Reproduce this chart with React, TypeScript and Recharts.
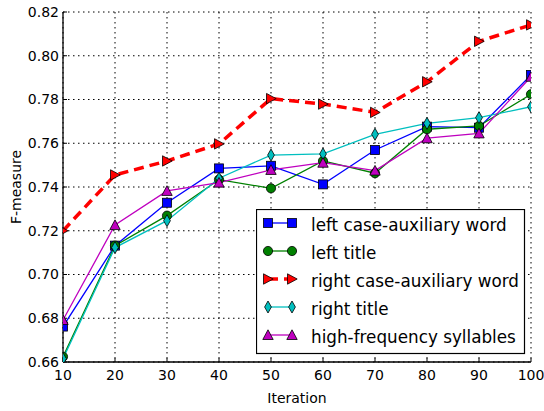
import React from 'react';
import { LineChart, Line, XAxis, YAxis, CartesianGrid, Legend } from 'recharts';

const iterations = [10, 20, 30, 40, 50, 60, 70, 80, 90, 100];
const leftCaseAux = [0.6762, 0.7132, 0.7328, 0.7485, 0.7497, 0.7412, 0.7569, 0.7676, 0.7671, 0.7912];
const leftTitle = [0.6624, 0.7132, 0.7269, 0.7434, 0.7394, 0.7519, 0.7463, 0.7664, 0.7679, 0.7824];
const rightCaseAux = [0.72, 0.7455, 0.7519, 0.7597, 0.7804, 0.7779, 0.7741, 0.7881, 0.8066, 0.8141];
const rightTitle = [0.6615, 0.7123, 0.7246, 0.744, 0.7546, 0.7551, 0.7641, 0.7691, 0.7717, 0.7767];
const highFreq = [0.6792, 0.7226, 0.7382, 0.742, 0.7478, 0.7511, 0.7475, 0.7623, 0.7645, 0.7904];

const xTicks = [10, 20, 30, 40, 50, 60, 70, 80, 90, 100];
const yTicks = [0.66, 0.68, 0.7, 0.72, 0.74, 0.76, 0.78, 0.8, 0.82];

const FONT = '"DejaVu Sans", sans-serif';

type MarkerKind = 'square' | 'circle' | 'triRight' | 'diamond' | 'triUp';

const SERIES: { key: string; name: string; values: number[]; color: string; marker: MarkerKind; dashed?: boolean }[] = [
  { key: 'lca', name: 'left case-auxiliary word', values: leftCaseAux, color: '#0000ff', marker: 'square' },
  { key: 'lt', name: 'left title', values: leftTitle, color: '#008000', marker: 'circle' },
  { key: 'rca', name: 'right case-auxiliary word', values: rightCaseAux, color: '#ff0000', marker: 'triRight', dashed: true },
  { key: 'rt', name: 'right title', values: rightTitle, color: '#00bfbf', marker: 'diamond' },
  { key: 'hf', name: 'high-frequency syllables', values: highFreq, color: '#bf00bf', marker: 'triUp' },
];

const data = iterations.map((it, i) => {
  const row: Record<string, number> = { iteration: it };
  SERIES.forEach((s) => {
    row[s.key] = s.values[i];
  });
  return row;
});

const Marker = ({ kind, cx, cy, color }: { kind: MarkerKind; cx: number; cy: number; color: string }) => {
  const common = { fill: color, stroke: '#000', strokeWidth: 0.8 };
  switch (kind) {
    case 'square':
      return <rect x={cx - 4.5} y={cy - 4.5} width={9} height={9} {...common} />;
    case 'circle':
      return <circle cx={cx} cy={cy} r={4.6} {...common} />;
    case 'triRight':
      return <polygon points={`${cx - 4.5},${cy - 5.2} ${cx + 5.2},${cy} ${cx - 4.5},${cy + 5.2}`} {...common} />;
    case 'diamond':
      return <polygon points={`${cx},${cy - 6} ${cx + 3.4},${cy} ${cx},${cy + 6} ${cx - 3.4},${cy}`} {...common} />;
    case 'triUp':
      return <polygon points={`${cx},${cy - 5.2} ${cx + 5.2},${cy + 4.5} ${cx - 5.2},${cy + 4.5}`} {...common} />;
  }
  return null;
};

const LegendBox = () => (
  <svg width={270} height={147} style={{ display: 'block' }}>
    <rect x={0.5} y={0.5} width={268} height={144} fill="#fff" stroke="#000" strokeWidth={1.2} />
    {SERIES.map((s, i) => {
      const cy = 14 + i * 28;
      return (
        <g key={s.key}>
          <line
            x1={12}
            x2={36}
            y1={cy}
            y2={cy}
            stroke={s.color}
            strokeWidth={s.dashed ? 3.5 : 1.3}
            strokeDasharray={s.dashed ? '10 6' : undefined}
          />
          <Marker kind={s.marker} cx={12} cy={cy} color={s.color} />
          <Marker kind={s.marker} cx={36} cy={cy} color={s.color} />
          <text x={55} y={cy + 7.7} fontFamily={FONT} fontSize={16.8} fill="#000">
            {s.name}
          </text>
        </g>
      );
    })}
  </svg>
);

const tickStyle = { fill: '#000', fontFamily: FONT, fontSize: 14 };

export default function App() {
  return (
    <div style={{ position: 'absolute', left: 0, top: 0, width: 544, height: 411, background: '#fff' }}>
      <LineChart width={544} height={411} data={data} margin={{ top: 12, right: 13, bottom: 0, left: 0 }}>
        <CartesianGrid stroke="#000" strokeDasharray="1.5 3.5" strokeWidth={1} />
        <XAxis
          dataKey="iteration"
          type="number"
          domain={[10, 100]}
          ticks={xTicks}
          allowDataOverflow
          height={49}
          tickSize={-4}
          tickMargin={12}
          tick={tickStyle}
          axisLine={{ stroke: '#000', strokeWidth: 1.3 }}
          tickLine={{ stroke: '#000' }}
          label={{ value: 'Iteration', position: 'insideBottom', offset: 8, fill: '#000', fontFamily: FONT, fontSize: 14 }}
        />
        <XAxis
          xAxisId="top"
          dataKey="iteration"
          type="number"
          orientation="top"
          domain={[10, 100]}
          ticks={xTicks}
          height={0}
          tickSize={-4}
          tickFormatter={() => ''}
          axisLine={{ stroke: '#000', strokeWidth: 1.3 }}
          tickLine={{ stroke: '#000' }}
        />
        <YAxis
          type="number"
          domain={[0.66, 0.82]}
          ticks={yTicks}
          allowDataOverflow
          width={63}
          tickSize={-4}
          tickMargin={8}
          tick={tickStyle}
          tickFormatter={(v: number) => v.toFixed(2)}
          axisLine={{ stroke: '#000', strokeWidth: 1.3 }}
          tickLine={{ stroke: '#000' }}
          label={{
            value: 'F-measure',
            angle: -90,
            position: 'insideLeft',
            offset: 16,
            fill: '#000',
            fontFamily: FONT,
            fontSize: 14,
            style: { textAnchor: 'middle' },
          }}
        />
        <YAxis
          yAxisId="right"
          orientation="right"
          type="number"
          domain={[0.66, 0.82]}
          ticks={yTicks}
          width={0}
          tickSize={-4}
          tickFormatter={() => ''}
          axisLine={{ stroke: '#000', strokeWidth: 1.3 }}
          tickLine={{ stroke: '#000' }}
        />
        {SERIES.map((s) => (
          <Line
            key={s.key}
            dataKey={s.key}
            name={s.name}
            type="linear"
            stroke={s.color}
            strokeWidth={s.dashed ? 3.5 : 1.3}
            strokeDasharray={s.dashed ? '10 6' : undefined}
            isAnimationActive={false}
            activeDot={false}
            dot={(p: any) => <Marker key={`${s.key}-${p.index}`} kind={s.marker} cx={p.cx} cy={p.cy} color={s.color} />}
          />
        ))}
        <Legend
          layout="vertical"
          verticalAlign="middle"
          align="center"
          content={() => <LegendBox />}
          wrapperStyle={{ left: 256, top: 209, width: 270, height: 147 }}
        />
      </LineChart>
    </div>
  );
}
